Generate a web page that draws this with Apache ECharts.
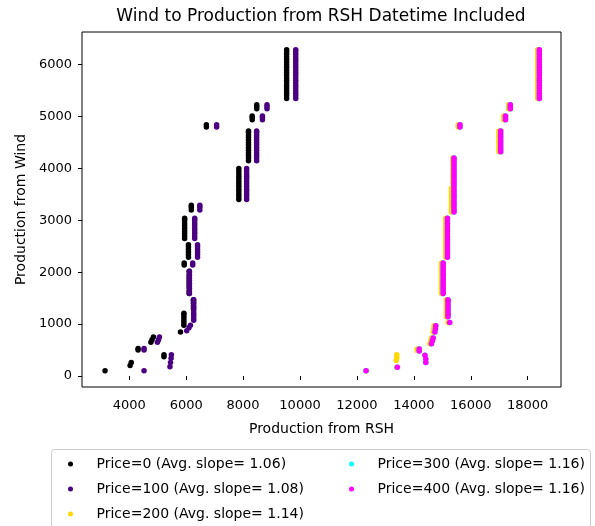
<!DOCTYPE html>
<html>
<head>
<meta charset="utf-8">
<script src="https://cdn.jsdelivr.net/npm/echarts@6/dist/echarts.min.js"></script>
<style>
html,body{margin:0;padding:0;background:#fff;}
#chart{width:595px;height:526px;}
</style>
</head>
<body>
<div id="chart"></div>
<script>
const chartTitle = 'Wind to Production from RSH Datetime Included';
const xAxisName = 'Production from RSH';
const yAxisName = 'Production from Wind';
const xTicks = [4000, 6000, 8000, 10000, 12000, 14000, 16000, 18000];
const yTicks = [0, 1000, 2000, 3000, 4000, 5000, 6000];
const seriesNames = [
  'Price=0 (Avg. slope= 1.06)',
  'Price=100 (Avg. slope= 1.08)',
  'Price=200 (Avg. slope= 1.14)',
  'Price=300 (Avg. slope= 1.16)',
  'Price=400 (Avg. slope= 1.16)'
];
const seriesColors = ['#000000', '#4b0082', '#ffd700', '#00ffff', '#ff00ff'];

// Each entry: [RSH production, [wind production values read at that RSH value]]
const price0 = [
  [3150, [100]], [4030, [200]], [4070, [260]], [4310, [500, 530]],
  [4760, [650]], [4800, [700]], [4850, [750]], [5220, [370, 410]],
  [5800, [850]], [5920, [980, 1030, 1080, 1130, 1180, 1210]],
  [6255, [1300, 1350, 1400, 1450, 1470]],
  [6105, [1590, 1640, 1700, 1750, 1800, 1850, 1900, 1950, 2020]],
  [5930, [2140, 2180]], [6080, [2290, 2340, 2390, 2440, 2490, 2530]],
  [5946, [2650, 2700, 2750, 2800, 2850, 2900, 2950, 3000, 3040]],
  [6180, [3200, 3250, 3290]],
  [7850, [3400, 3450, 3500, 3550, 3600, 3650, 3700, 3750, 3800, 3850, 3900, 3950, 4000]],
  [8190, [4150, 4200, 4250, 4300, 4350, 4400, 4450, 4500, 4550, 4600, 4650, 4700, 4720]],
  [6710, [4800, 4840]], [8320, [4940, 4980, 5010]], [8480, [5150, 5190, 5230]],
  [9530, [5350, 5400, 5450, 5500, 5550, 5600, 5650, 5700, 5750, 5800, 5850, 5900, 5950, 6000, 6050, 6100, 6150, 6200, 6250, 6290]]
];
const price100 = [
  [4520, [100, 500, 530]], [4990, [650]], [5030, [700]], [5060, [750]],
  [5430, [180]], [5450, [260]], [5470, [340]], [5480, [410]],
  [6020, [870]], [6100, [930]], [6150, [980]],
  [6265, [1075, 1120, 1170, 1220, 1270, 1320, 1370, 1420, 1470]],
  [6115, [1590, 1640, 1690, 1740, 1790, 1840, 1890, 1940, 1990, 2020]],
  [6230, [2140, 2180]], [6400, [2290, 2340, 2390, 2440, 2490, 2530]],
  [6300, [2650, 2700, 2750, 2800, 2850, 2900, 2950, 3000, 3040]],
  [6480, [3200, 3250, 3290]],
  [8125, [3400, 3450, 3500, 3550, 3600, 3650, 3700, 3750, 3800, 3850, 3900, 3950, 4000]],
  [8476, [4150, 4200, 4250, 4300, 4350, 4400, 4450, 4500, 4550, 4600, 4650, 4700, 4720]],
  [7070, [4800, 4840]], [8680, [4940, 4980, 5010]], [8840, [5150, 5190, 5230]],
  [9850, [5350, 5400, 5450, 5500, 5550, 5600, 5650, 5700, 5750, 5800, 5850, 5900, 5950, 6000, 6050, 6100, 6150, 6200, 6250, 6290]]
];
const price200 = [
  [12320, [100]], [13400, [170, 350, 410]], [13380, [300]],
  [14120, [490, 520]],
  [14560, [620]], [14590, [680]], [14620, [730]],
  [14680, [850]], [14700, [910]], [14710, [970]],
  [15200, [1030]],
  [15140, [1140, 1190, 1240, 1290, 1340, 1390, 1440, 1470]],
  [14970, [1590, 1640, 1690, 1740, 1790, 1840, 1890, 1940, 1990, 2040, 2090, 2140, 2180]],
  [15120, [2290, 2340, 2390, 2440, 2490, 2540, 2590, 2640, 2690, 2740, 2790, 2840, 2890, 2940, 2990, 3040]],
  [15320, [3160, 3210, 3260, 3310, 3360, 3410, 3460, 3510, 3560, 3620]],
  [15370, [3700, 3750, 3800, 3850, 3900, 3950, 4000, 4050, 4100, 4150, 4200]],
  [15560, [4800, 4840]],
  [16990, [4320, 4370, 4420, 4470, 4520, 4570, 4620, 4670, 4720]],
  [17160, [4940, 4980, 5010]], [17330, [5150, 5190, 5230]],
  [18350, [5350, 5400, 5450, 5500, 5550, 5600, 5650, 5700, 5750, 5800, 5850, 5900, 5950, 6000, 6050, 6100, 6150, 6200, 6250, 6290]]
];
const price300 = [
  [12320, [100]], [13420, [170]],
  [14190, [480, 520]], [14390, [400]], [14420, [260, 330]],
  [14620, [620]], [14650, [680]], [14680, [730]],
  [14740, [850]], [14760, [910]], [14770, [970]],
  [15260, [1030]],
  [15200, [1140, 1190, 1240, 1290, 1340, 1390, 1440, 1470]],
  [15030, [1590, 1640, 1690, 1740, 1790, 1840, 1890, 1940, 1990, 2040, 2090, 2140, 2180]],
  [15180, [2290, 2340, 2390, 2440, 2490, 2540, 2590, 2640, 2690, 2740, 2790, 2840, 2890, 2940, 2990, 3040]],
  [15410, [3160, 3210, 3260, 3310, 3360, 3410, 3460, 3510, 3560, 3610, 3660, 3710, 3760, 3810, 3860, 3910, 3960, 4010, 4060, 4110, 4160, 4200]],
  [15620, [4800, 4840]],
  [17050, [4320, 4370, 4420, 4470, 4520, 4570, 4620, 4670, 4720]],
  [17220, [4940, 4980, 5010]], [17390, [5150, 5190, 5230]],
  [18410, [5350, 5400, 5450, 5500, 5550, 5600, 5650, 5700, 5750, 5800, 5850, 5900, 5950, 6000, 6050, 6100, 6150, 6200, 6250, 6290]]
];
const price400 = [
  [12320, [100]], [13420, [170]],
  [14190, [480, 520]], [14390, [400]], [14420, [260, 330]],
  [14620, [620]], [14650, [680]], [14680, [730]],
  [14740, [850]], [14760, [910]], [14770, [970]],
  [15260, [1030]],
  [15200, [1140, 1190, 1240, 1290, 1340, 1390, 1440, 1470]],
  [15030, [1590, 1640, 1690, 1740, 1790, 1840, 1890, 1940, 1990, 2040, 2090, 2140, 2180]],
  [15180, [2290, 2340, 2390, 2440, 2490, 2540, 2590, 2640, 2690, 2740, 2790, 2840, 2890, 2940, 2990, 3040]],
  [15410, [3160, 3210, 3260, 3310, 3360, 3410, 3460, 3510, 3560, 3610, 3660, 3710, 3760, 3810, 3860, 3910, 3960, 4010, 4060, 4110, 4160, 4200]],
  [15620, [4800, 4840]],
  [17050, [4320, 4370, 4420, 4470, 4520, 4570, 4620, 4670, 4720]],
  [17220, [4940, 4980, 5010]], [17390, [5150, 5190, 5230]],
  [18410, [5350, 5400, 5450, 5500, 5550, 5600, 5650, 5700, 5750, 5800, 5850, 5900, 5950, 6000, 6050, 6100, 6150, 6200, 6250, 6290]]
];

function toPoints(strips) {
  const pts = [];
  strips.forEach(function (s) { s[1].forEach(function (y) { pts.push([s[0], y]); }); });
  return pts;
}
const allData = [price0, price100, price200, price300, price400];

const font = 'DejaVu Sans';
const plain = function (v) { return String(v); };
const legendBase = {
  orient: 'vertical', top: 456, padding: 0,
  icon: 'circle', itemWidth: 42, itemHeight: 5, itemGap: 9,
  textStyle: {fontFamily: font, fontSize: 14, lineHeight: 16, color: '#000'}
};
const chart = echarts.init(document.getElementById('chart'), null, {renderer: 'canvas'});
chart.setOption({
  animation: false,
  backgroundColor: '#ffffff',
  textStyle: {fontFamily: font},
  title: {
    text: chartTitle,
    left: 316,
    textAlign: 'center',
    top: 3,
    textStyle: {fontFamily: font, fontSize: 17, fontWeight: 'normal', color: '#000'}
  },
  grid: {left: 82, right: 34, top: 32, bottom: 139, show: true, borderColor: '#000', borderWidth: 1, backgroundColor: 'transparent'},
  xAxis: {
    type: 'value', min: 2340, max: 19170,
    name: xAxisName, nameLocation: 'middle', nameGap: 35,
    nameTextStyle: {fontFamily: font, fontSize: 14, color: '#000'},
    axisLine: {show: false},
    splitLine: {show: false},
    axisTick: {show: true, length: 4, customValues: xTicks, lineStyle: {color: '#000'}},
    axisLabel: {customValues: xTicks, formatter: plain, fontFamily: font, fontSize: 13, color: '#000', margin: 12}
  },
  yAxis: {
    type: 'value', min: -212, max: 6630,
    name: yAxisName, nameLocation: 'middle', nameGap: 50,
    nameTextStyle: {fontFamily: font, fontSize: 14, color: '#000'},
    axisLine: {show: false},
    splitLine: {show: false},
    axisTick: {show: true, length: 4, customValues: yTicks, lineStyle: {color: '#000'}},
    axisLabel: {customValues: yTicks, formatter: plain, fontFamily: font, fontSize: 13, color: '#000', margin: 10}
  },
  legend: [
    Object.assign({}, legendBase, {data: seriesNames.slice(0, 3), left: 68}),
    Object.assign({}, legendBase, {data: seriesNames.slice(3), left: 349})
  ],
  graphic: [{
    type: 'rect', z: 0,
    shape: {x: 51.5, y: 449.5, width: 539, height: 100, r: 3},
    style: {fill: 'none', stroke: '#cccccc', lineWidth: 1}
  }],
  series: allData.map(function (d, i) {
    return {
      type: 'scatter', name: seriesNames[i], data: toPoints(d),
      symbol: 'circle', symbolSize: 5.5,
      itemStyle: {color: seriesColors[i], opacity: 1},
      emphasis: {disabled: true}
    };
  })
});
</script>
</body>
</html>
